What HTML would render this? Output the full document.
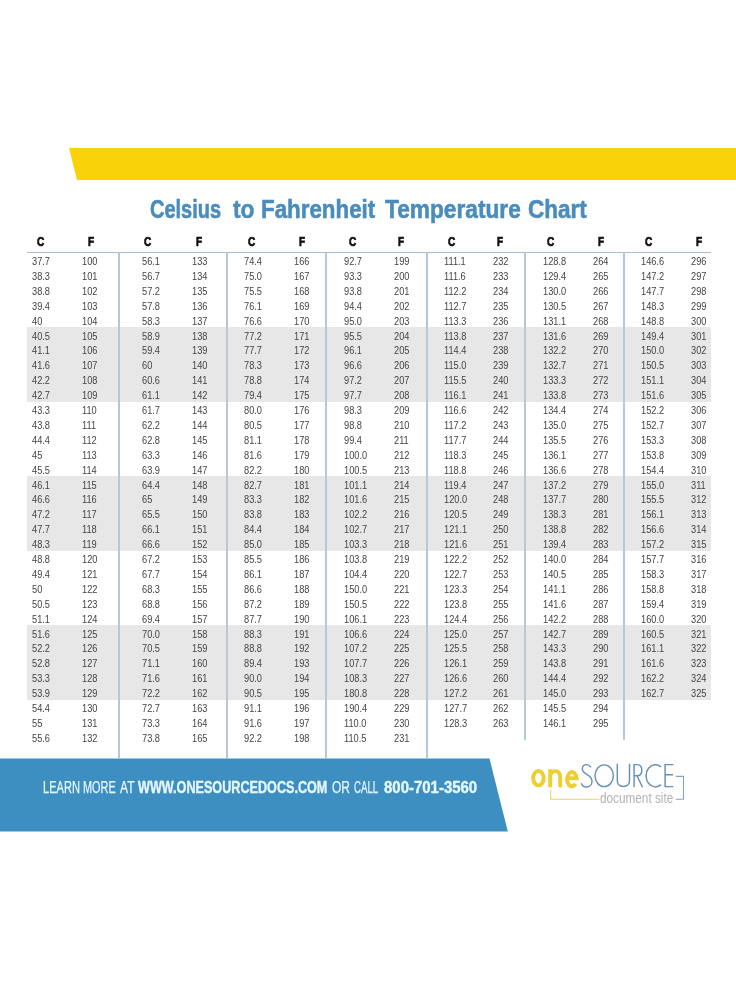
<!DOCTYPE html>
<html><head><meta charset="utf-8"><title>Celsius to Fahrenheit Temperature Chart</title>
<style>
html,body{margin:0;padding:0;background:#fff;}
body{width:736px;height:981px;position:relative;overflow:hidden;font-family:"Liberation Sans",sans-serif;}
.a{position:absolute;white-space:nowrap;}
.d{position:absolute;white-space:nowrap;font-size:10.5px;line-height:10px;color:#444444;transform:scaleX(0.88);transform-origin:0 0;filter:grayscale(1);}
.h{position:absolute;white-space:nowrap;font-size:12.5px;line-height:12px;font-weight:bold;color:#111;-webkit-text-stroke:0.7px #111;transform:scaleX(0.8);transform-origin:0 0;}
.band{position:absolute;left:26.5px;width:684.5px;height:75px;background:#e7e7e7;}
.vl{position:absolute;width:1.6px;background:#b4c8d6;}
</style></head><body>

<svg class="a" style="left:0;top:0" width="736" height="981" viewBox="0 0 736 981">
<polygon points="69,148 736,148 736,180 77,180" fill="#fad20a"/>
<polygon points="0,758.5 489.5,758.5 507.8,831.5 0,831.5" fill="#3d8ec1"/>
</svg>
<div class="band" style="top:326.70px"></div>
<div class="band" style="top:475.70px"></div>
<div class="band" style="top:624.70px"></div>
<div class="a" style="left:26.5px;top:252px;width:684.5px;height:1.4px;background:#a9bec2"></div>
<div class="vl" style="left:118px;top:252px;height:506px"></div>
<div class="vl" style="left:226px;top:252px;height:506px"></div>
<div class="vl" style="left:325px;top:252px;height:506px"></div>
<div class="vl" style="left:426px;top:252px;height:506px"></div>
<div class="vl" style="left:524px;top:252px;height:488px"></div>
<div class="vl" style="left:623px;top:252px;height:488px"></div>
<div class="a" style="left:150.23px;top:196px;font-size:26px;line-height:1;font-weight:bold;color:#4a8cbc;-webkit-text-stroke:0.6px #4a8cbc;transform:scaleX(0.7692);transform-origin:0 0">Celsius</div>
<div class="a" style="left:232.7px;top:196px;font-size:26px;line-height:1;font-weight:bold;color:#4a8cbc;-webkit-text-stroke:0.6px #4a8cbc;transform:scaleX(0.875);transform-origin:0 0">to</div>
<div class="a" style="left:260.88px;top:196px;font-size:26px;line-height:1;font-weight:bold;color:#4a8cbc;-webkit-text-stroke:0.6px #4a8cbc;transform:scaleX(0.8595);transform-origin:0 0">Fahrenheit</div>
<div class="a" style="left:384.7px;top:196px;font-size:26px;line-height:1;font-weight:bold;color:#4a8cbc;-webkit-text-stroke:0.6px #4a8cbc;transform:scaleX(0.8729);transform-origin:0 0">Temperature</div>
<div class="a" style="left:528.03px;top:196px;font-size:26px;line-height:1;font-weight:bold;color:#4a8cbc;-webkit-text-stroke:0.6px #4a8cbc;transform:scaleX(0.8672);transform-origin:0 0">Chart</div>
<div class="h" style="left:37px;top:236px">C</div>
<div class="h" style="left:87.5px;top:236px">F</div>
<div class="h" style="left:144px;top:236px">C</div>
<div class="h" style="left:195.5px;top:236px">F</div>
<div class="h" style="left:248px;top:236px">C</div>
<div class="h" style="left:299px;top:236px">F</div>
<div class="h" style="left:348.5px;top:236px">C</div>
<div class="h" style="left:398px;top:236px">F</div>
<div class="h" style="left:447.5px;top:236px">C</div>
<div class="h" style="left:497px;top:236px">F</div>
<div class="h" style="left:546.5px;top:236px">C</div>
<div class="h" style="left:598px;top:236px">F</div>
<div class="h" style="left:645px;top:236px">C</div>
<div class="h" style="left:696px;top:236px">F</div>
<div class="d" style="left:32px;top:256.00px">37.7</div>
<div class="d" style="left:81.8px;top:256.00px">100</div>
<div class="d" style="left:32px;top:270.90px">38.3</div>
<div class="d" style="left:81.8px;top:270.90px">101</div>
<div class="d" style="left:32px;top:285.80px">38.8</div>
<div class="d" style="left:81.8px;top:285.80px">102</div>
<div class="d" style="left:32px;top:300.70px">39.4</div>
<div class="d" style="left:81.8px;top:300.70px">103</div>
<div class="d" style="left:32px;top:315.60px">40</div>
<div class="d" style="left:81.8px;top:315.60px">104</div>
<div class="d" style="left:32px;top:330.50px">40.5</div>
<div class="d" style="left:81.8px;top:330.50px">105</div>
<div class="d" style="left:32px;top:345.40px">41.1</div>
<div class="d" style="left:81.8px;top:345.40px">106</div>
<div class="d" style="left:32px;top:360.30px">41.6</div>
<div class="d" style="left:81.8px;top:360.30px">107</div>
<div class="d" style="left:32px;top:375.20px">42.2</div>
<div class="d" style="left:81.8px;top:375.20px">108</div>
<div class="d" style="left:32px;top:390.10px">42.7</div>
<div class="d" style="left:81.8px;top:390.10px">109</div>
<div class="d" style="left:32px;top:405.00px">43.3</div>
<div class="d" style="left:81.8px;top:405.00px">110</div>
<div class="d" style="left:32px;top:419.90px">43.8</div>
<div class="d" style="left:81.8px;top:419.90px">111</div>
<div class="d" style="left:32px;top:434.80px">44.4</div>
<div class="d" style="left:81.8px;top:434.80px">112</div>
<div class="d" style="left:32px;top:449.70px">45</div>
<div class="d" style="left:81.8px;top:449.70px">113</div>
<div class="d" style="left:32px;top:464.60px">45.5</div>
<div class="d" style="left:81.8px;top:464.60px">114</div>
<div class="d" style="left:32px;top:479.50px">46.1</div>
<div class="d" style="left:81.8px;top:479.50px">115</div>
<div class="d" style="left:32px;top:494.40px">46.6</div>
<div class="d" style="left:81.8px;top:494.40px">116</div>
<div class="d" style="left:32px;top:509.30px">47.2</div>
<div class="d" style="left:81.8px;top:509.30px">117</div>
<div class="d" style="left:32px;top:524.20px">47.7</div>
<div class="d" style="left:81.8px;top:524.20px">118</div>
<div class="d" style="left:32px;top:539.10px">48.3</div>
<div class="d" style="left:81.8px;top:539.10px">119</div>
<div class="d" style="left:32px;top:554.00px">48.8</div>
<div class="d" style="left:81.8px;top:554.00px">120</div>
<div class="d" style="left:32px;top:568.90px">49.4</div>
<div class="d" style="left:81.8px;top:568.90px">121</div>
<div class="d" style="left:32px;top:583.80px">50</div>
<div class="d" style="left:81.8px;top:583.80px">122</div>
<div class="d" style="left:32px;top:598.70px">50.5</div>
<div class="d" style="left:81.8px;top:598.70px">123</div>
<div class="d" style="left:32px;top:613.60px">51.1</div>
<div class="d" style="left:81.8px;top:613.60px">124</div>
<div class="d" style="left:32px;top:628.50px">51.6</div>
<div class="d" style="left:81.8px;top:628.50px">125</div>
<div class="d" style="left:32px;top:643.40px">52.2</div>
<div class="d" style="left:81.8px;top:643.40px">126</div>
<div class="d" style="left:32px;top:658.30px">52.8</div>
<div class="d" style="left:81.8px;top:658.30px">127</div>
<div class="d" style="left:32px;top:673.20px">53.3</div>
<div class="d" style="left:81.8px;top:673.20px">128</div>
<div class="d" style="left:32px;top:688.10px">53.9</div>
<div class="d" style="left:81.8px;top:688.10px">129</div>
<div class="d" style="left:32px;top:703.00px">54.4</div>
<div class="d" style="left:81.8px;top:703.00px">130</div>
<div class="d" style="left:32px;top:717.90px">55</div>
<div class="d" style="left:81.8px;top:717.90px">131</div>
<div class="d" style="left:32px;top:732.80px">55.6</div>
<div class="d" style="left:81.8px;top:732.80px">132</div>
<div class="d" style="left:142px;top:256.00px">56.1</div>
<div class="d" style="left:191.6px;top:256.00px">133</div>
<div class="d" style="left:142px;top:270.90px">56.7</div>
<div class="d" style="left:191.6px;top:270.90px">134</div>
<div class="d" style="left:142px;top:285.80px">57.2</div>
<div class="d" style="left:191.6px;top:285.80px">135</div>
<div class="d" style="left:142px;top:300.70px">57.8</div>
<div class="d" style="left:191.6px;top:300.70px">136</div>
<div class="d" style="left:142px;top:315.60px">58.3</div>
<div class="d" style="left:191.6px;top:315.60px">137</div>
<div class="d" style="left:142px;top:330.50px">58.9</div>
<div class="d" style="left:191.6px;top:330.50px">138</div>
<div class="d" style="left:142px;top:345.40px">59.4</div>
<div class="d" style="left:191.6px;top:345.40px">139</div>
<div class="d" style="left:142px;top:360.30px">60</div>
<div class="d" style="left:191.6px;top:360.30px">140</div>
<div class="d" style="left:142px;top:375.20px">60.6</div>
<div class="d" style="left:191.6px;top:375.20px">141</div>
<div class="d" style="left:142px;top:390.10px">61.1</div>
<div class="d" style="left:191.6px;top:390.10px">142</div>
<div class="d" style="left:142px;top:405.00px">61.7</div>
<div class="d" style="left:191.6px;top:405.00px">143</div>
<div class="d" style="left:142px;top:419.90px">62.2</div>
<div class="d" style="left:191.6px;top:419.90px">144</div>
<div class="d" style="left:142px;top:434.80px">62.8</div>
<div class="d" style="left:191.6px;top:434.80px">145</div>
<div class="d" style="left:142px;top:449.70px">63.3</div>
<div class="d" style="left:191.6px;top:449.70px">146</div>
<div class="d" style="left:142px;top:464.60px">63.9</div>
<div class="d" style="left:191.6px;top:464.60px">147</div>
<div class="d" style="left:142px;top:479.50px">64.4</div>
<div class="d" style="left:191.6px;top:479.50px">148</div>
<div class="d" style="left:142px;top:494.40px">65</div>
<div class="d" style="left:191.6px;top:494.40px">149</div>
<div class="d" style="left:142px;top:509.30px">65.5</div>
<div class="d" style="left:191.6px;top:509.30px">150</div>
<div class="d" style="left:142px;top:524.20px">66.1</div>
<div class="d" style="left:191.6px;top:524.20px">151</div>
<div class="d" style="left:142px;top:539.10px">66.6</div>
<div class="d" style="left:191.6px;top:539.10px">152</div>
<div class="d" style="left:142px;top:554.00px">67.2</div>
<div class="d" style="left:191.6px;top:554.00px">153</div>
<div class="d" style="left:142px;top:568.90px">67.7</div>
<div class="d" style="left:191.6px;top:568.90px">154</div>
<div class="d" style="left:142px;top:583.80px">68.3</div>
<div class="d" style="left:191.6px;top:583.80px">155</div>
<div class="d" style="left:142px;top:598.70px">68.8</div>
<div class="d" style="left:191.6px;top:598.70px">156</div>
<div class="d" style="left:142px;top:613.60px">69.4</div>
<div class="d" style="left:191.6px;top:613.60px">157</div>
<div class="d" style="left:142px;top:628.50px">70.0</div>
<div class="d" style="left:191.6px;top:628.50px">158</div>
<div class="d" style="left:142px;top:643.40px">70.5</div>
<div class="d" style="left:191.6px;top:643.40px">159</div>
<div class="d" style="left:142px;top:658.30px">71.1</div>
<div class="d" style="left:191.6px;top:658.30px">160</div>
<div class="d" style="left:142px;top:673.20px">71.6</div>
<div class="d" style="left:191.6px;top:673.20px">161</div>
<div class="d" style="left:142px;top:688.10px">72.2</div>
<div class="d" style="left:191.6px;top:688.10px">162</div>
<div class="d" style="left:142px;top:703.00px">72.7</div>
<div class="d" style="left:191.6px;top:703.00px">163</div>
<div class="d" style="left:142px;top:717.90px">73.3</div>
<div class="d" style="left:191.6px;top:717.90px">164</div>
<div class="d" style="left:142px;top:732.80px">73.8</div>
<div class="d" style="left:191.6px;top:732.80px">165</div>
<div class="d" style="left:243.8px;top:256.00px">74.4</div>
<div class="d" style="left:294.2px;top:256.00px">166</div>
<div class="d" style="left:243.8px;top:270.90px">75.0</div>
<div class="d" style="left:294.2px;top:270.90px">167</div>
<div class="d" style="left:243.8px;top:285.80px">75.5</div>
<div class="d" style="left:294.2px;top:285.80px">168</div>
<div class="d" style="left:243.8px;top:300.70px">76.1</div>
<div class="d" style="left:294.2px;top:300.70px">169</div>
<div class="d" style="left:243.8px;top:315.60px">76.6</div>
<div class="d" style="left:294.2px;top:315.60px">170</div>
<div class="d" style="left:243.8px;top:330.50px">77.2</div>
<div class="d" style="left:294.2px;top:330.50px">171</div>
<div class="d" style="left:243.8px;top:345.40px">77.7</div>
<div class="d" style="left:294.2px;top:345.40px">172</div>
<div class="d" style="left:243.8px;top:360.30px">78.3</div>
<div class="d" style="left:294.2px;top:360.30px">173</div>
<div class="d" style="left:243.8px;top:375.20px">78.8</div>
<div class="d" style="left:294.2px;top:375.20px">174</div>
<div class="d" style="left:243.8px;top:390.10px">79.4</div>
<div class="d" style="left:294.2px;top:390.10px">175</div>
<div class="d" style="left:243.8px;top:405.00px">80.0</div>
<div class="d" style="left:294.2px;top:405.00px">176</div>
<div class="d" style="left:243.8px;top:419.90px">80.5</div>
<div class="d" style="left:294.2px;top:419.90px">177</div>
<div class="d" style="left:243.8px;top:434.80px">81.1</div>
<div class="d" style="left:294.2px;top:434.80px">178</div>
<div class="d" style="left:243.8px;top:449.70px">81.6</div>
<div class="d" style="left:294.2px;top:449.70px">179</div>
<div class="d" style="left:243.8px;top:464.60px">82.2</div>
<div class="d" style="left:294.2px;top:464.60px">180</div>
<div class="d" style="left:243.8px;top:479.50px">82.7</div>
<div class="d" style="left:294.2px;top:479.50px">181</div>
<div class="d" style="left:243.8px;top:494.40px">83.3</div>
<div class="d" style="left:294.2px;top:494.40px">182</div>
<div class="d" style="left:243.8px;top:509.30px">83.8</div>
<div class="d" style="left:294.2px;top:509.30px">183</div>
<div class="d" style="left:243.8px;top:524.20px">84.4</div>
<div class="d" style="left:294.2px;top:524.20px">184</div>
<div class="d" style="left:243.8px;top:539.10px">85.0</div>
<div class="d" style="left:294.2px;top:539.10px">185</div>
<div class="d" style="left:243.8px;top:554.00px">85.5</div>
<div class="d" style="left:294.2px;top:554.00px">186</div>
<div class="d" style="left:243.8px;top:568.90px">86.1</div>
<div class="d" style="left:294.2px;top:568.90px">187</div>
<div class="d" style="left:243.8px;top:583.80px">86.6</div>
<div class="d" style="left:294.2px;top:583.80px">188</div>
<div class="d" style="left:243.8px;top:598.70px">87.2</div>
<div class="d" style="left:294.2px;top:598.70px">189</div>
<div class="d" style="left:243.8px;top:613.60px">87.7</div>
<div class="d" style="left:294.2px;top:613.60px">190</div>
<div class="d" style="left:243.8px;top:628.50px">88.3</div>
<div class="d" style="left:294.2px;top:628.50px">191</div>
<div class="d" style="left:243.8px;top:643.40px">88.8</div>
<div class="d" style="left:294.2px;top:643.40px">192</div>
<div class="d" style="left:243.8px;top:658.30px">89.4</div>
<div class="d" style="left:294.2px;top:658.30px">193</div>
<div class="d" style="left:243.8px;top:673.20px">90.0</div>
<div class="d" style="left:294.2px;top:673.20px">194</div>
<div class="d" style="left:243.8px;top:688.10px">90.5</div>
<div class="d" style="left:294.2px;top:688.10px">195</div>
<div class="d" style="left:243.8px;top:703.00px">91.1</div>
<div class="d" style="left:294.2px;top:703.00px">196</div>
<div class="d" style="left:243.8px;top:717.90px">91.6</div>
<div class="d" style="left:294.2px;top:717.90px">197</div>
<div class="d" style="left:243.8px;top:732.80px">92.2</div>
<div class="d" style="left:294.2px;top:732.80px">198</div>
<div class="d" style="left:343.5px;top:256.00px">92.7</div>
<div class="d" style="left:393.6px;top:256.00px">199</div>
<div class="d" style="left:343.5px;top:270.90px">93.3</div>
<div class="d" style="left:393.6px;top:270.90px">200</div>
<div class="d" style="left:343.5px;top:285.80px">93.8</div>
<div class="d" style="left:393.6px;top:285.80px">201</div>
<div class="d" style="left:343.5px;top:300.70px">94.4</div>
<div class="d" style="left:393.6px;top:300.70px">202</div>
<div class="d" style="left:343.5px;top:315.60px">95.0</div>
<div class="d" style="left:393.6px;top:315.60px">203</div>
<div class="d" style="left:343.5px;top:330.50px">95.5</div>
<div class="d" style="left:393.6px;top:330.50px">204</div>
<div class="d" style="left:343.5px;top:345.40px">96.1</div>
<div class="d" style="left:393.6px;top:345.40px">205</div>
<div class="d" style="left:343.5px;top:360.30px">96.6</div>
<div class="d" style="left:393.6px;top:360.30px">206</div>
<div class="d" style="left:343.5px;top:375.20px">97.2</div>
<div class="d" style="left:393.6px;top:375.20px">207</div>
<div class="d" style="left:343.5px;top:390.10px">97.7</div>
<div class="d" style="left:393.6px;top:390.10px">208</div>
<div class="d" style="left:343.5px;top:405.00px">98.3</div>
<div class="d" style="left:393.6px;top:405.00px">209</div>
<div class="d" style="left:343.5px;top:419.90px">98.8</div>
<div class="d" style="left:393.6px;top:419.90px">210</div>
<div class="d" style="left:343.5px;top:434.80px">99.4</div>
<div class="d" style="left:393.6px;top:434.80px">211</div>
<div class="d" style="left:343.5px;top:449.70px">100.0</div>
<div class="d" style="left:393.6px;top:449.70px">212</div>
<div class="d" style="left:343.5px;top:464.60px">100.5</div>
<div class="d" style="left:393.6px;top:464.60px">213</div>
<div class="d" style="left:343.5px;top:479.50px">101.1</div>
<div class="d" style="left:393.6px;top:479.50px">214</div>
<div class="d" style="left:343.5px;top:494.40px">101.6</div>
<div class="d" style="left:393.6px;top:494.40px">215</div>
<div class="d" style="left:343.5px;top:509.30px">102.2</div>
<div class="d" style="left:393.6px;top:509.30px">216</div>
<div class="d" style="left:343.5px;top:524.20px">102.7</div>
<div class="d" style="left:393.6px;top:524.20px">217</div>
<div class="d" style="left:343.5px;top:539.10px">103.3</div>
<div class="d" style="left:393.6px;top:539.10px">218</div>
<div class="d" style="left:343.5px;top:554.00px">103.8</div>
<div class="d" style="left:393.6px;top:554.00px">219</div>
<div class="d" style="left:343.5px;top:568.90px">104.4</div>
<div class="d" style="left:393.6px;top:568.90px">220</div>
<div class="d" style="left:343.5px;top:583.80px">150.0</div>
<div class="d" style="left:393.6px;top:583.80px">221</div>
<div class="d" style="left:343.5px;top:598.70px">150.5</div>
<div class="d" style="left:393.6px;top:598.70px">222</div>
<div class="d" style="left:343.5px;top:613.60px">106.1</div>
<div class="d" style="left:393.6px;top:613.60px">223</div>
<div class="d" style="left:343.5px;top:628.50px">106.6</div>
<div class="d" style="left:393.6px;top:628.50px">224</div>
<div class="d" style="left:343.5px;top:643.40px">107.2</div>
<div class="d" style="left:393.6px;top:643.40px">225</div>
<div class="d" style="left:343.5px;top:658.30px">107.7</div>
<div class="d" style="left:393.6px;top:658.30px">226</div>
<div class="d" style="left:343.5px;top:673.20px">108.3</div>
<div class="d" style="left:393.6px;top:673.20px">227</div>
<div class="d" style="left:343.5px;top:688.10px">180.8</div>
<div class="d" style="left:393.6px;top:688.10px">228</div>
<div class="d" style="left:343.5px;top:703.00px">190.4</div>
<div class="d" style="left:393.6px;top:703.00px">229</div>
<div class="d" style="left:343.5px;top:717.90px">110.0</div>
<div class="d" style="left:393.6px;top:717.90px">230</div>
<div class="d" style="left:343.5px;top:732.80px">110.5</div>
<div class="d" style="left:393.6px;top:732.80px">231</div>
<div class="d" style="left:443.8px;top:256.00px">111.1</div>
<div class="d" style="left:493px;top:256.00px">232</div>
<div class="d" style="left:443.8px;top:270.90px">111.6</div>
<div class="d" style="left:493px;top:270.90px">233</div>
<div class="d" style="left:443.8px;top:285.80px">112.2</div>
<div class="d" style="left:493px;top:285.80px">234</div>
<div class="d" style="left:443.8px;top:300.70px">112.7</div>
<div class="d" style="left:493px;top:300.70px">235</div>
<div class="d" style="left:443.8px;top:315.60px">113.3</div>
<div class="d" style="left:493px;top:315.60px">236</div>
<div class="d" style="left:443.8px;top:330.50px">113.8</div>
<div class="d" style="left:493px;top:330.50px">237</div>
<div class="d" style="left:443.8px;top:345.40px">114.4</div>
<div class="d" style="left:493px;top:345.40px">238</div>
<div class="d" style="left:443.8px;top:360.30px">115.0</div>
<div class="d" style="left:493px;top:360.30px">239</div>
<div class="d" style="left:443.8px;top:375.20px">115.5</div>
<div class="d" style="left:493px;top:375.20px">240</div>
<div class="d" style="left:443.8px;top:390.10px">116.1</div>
<div class="d" style="left:493px;top:390.10px">241</div>
<div class="d" style="left:443.8px;top:405.00px">116.6</div>
<div class="d" style="left:493px;top:405.00px">242</div>
<div class="d" style="left:443.8px;top:419.90px">117.2</div>
<div class="d" style="left:493px;top:419.90px">243</div>
<div class="d" style="left:443.8px;top:434.80px">117.7</div>
<div class="d" style="left:493px;top:434.80px">244</div>
<div class="d" style="left:443.8px;top:449.70px">118.3</div>
<div class="d" style="left:493px;top:449.70px">245</div>
<div class="d" style="left:443.8px;top:464.60px">118.8</div>
<div class="d" style="left:493px;top:464.60px">246</div>
<div class="d" style="left:443.8px;top:479.50px">119.4</div>
<div class="d" style="left:493px;top:479.50px">247</div>
<div class="d" style="left:443.8px;top:494.40px">120.0</div>
<div class="d" style="left:493px;top:494.40px">248</div>
<div class="d" style="left:443.8px;top:509.30px">120.5</div>
<div class="d" style="left:493px;top:509.30px">249</div>
<div class="d" style="left:443.8px;top:524.20px">121.1</div>
<div class="d" style="left:493px;top:524.20px">250</div>
<div class="d" style="left:443.8px;top:539.10px">121.6</div>
<div class="d" style="left:493px;top:539.10px">251</div>
<div class="d" style="left:443.8px;top:554.00px">122.2</div>
<div class="d" style="left:493px;top:554.00px">252</div>
<div class="d" style="left:443.8px;top:568.90px">122.7</div>
<div class="d" style="left:493px;top:568.90px">253</div>
<div class="d" style="left:443.8px;top:583.80px">123.3</div>
<div class="d" style="left:493px;top:583.80px">254</div>
<div class="d" style="left:443.8px;top:598.70px">123.8</div>
<div class="d" style="left:493px;top:598.70px">255</div>
<div class="d" style="left:443.8px;top:613.60px">124.4</div>
<div class="d" style="left:493px;top:613.60px">256</div>
<div class="d" style="left:443.8px;top:628.50px">125.0</div>
<div class="d" style="left:493px;top:628.50px">257</div>
<div class="d" style="left:443.8px;top:643.40px">125.5</div>
<div class="d" style="left:493px;top:643.40px">258</div>
<div class="d" style="left:443.8px;top:658.30px">126.1</div>
<div class="d" style="left:493px;top:658.30px">259</div>
<div class="d" style="left:443.8px;top:673.20px">126.6</div>
<div class="d" style="left:493px;top:673.20px">260</div>
<div class="d" style="left:443.8px;top:688.10px">127.2</div>
<div class="d" style="left:493px;top:688.10px">261</div>
<div class="d" style="left:443.8px;top:703.00px">127.7</div>
<div class="d" style="left:493px;top:703.00px">262</div>
<div class="d" style="left:443.8px;top:717.90px">128.3</div>
<div class="d" style="left:493px;top:717.90px">263</div>
<div class="d" style="left:542.6px;top:256.00px">128.8</div>
<div class="d" style="left:592.5px;top:256.00px">264</div>
<div class="d" style="left:542.6px;top:270.90px">129.4</div>
<div class="d" style="left:592.5px;top:270.90px">265</div>
<div class="d" style="left:542.6px;top:285.80px">130.0</div>
<div class="d" style="left:592.5px;top:285.80px">266</div>
<div class="d" style="left:542.6px;top:300.70px">130.5</div>
<div class="d" style="left:592.5px;top:300.70px">267</div>
<div class="d" style="left:542.6px;top:315.60px">131.1</div>
<div class="d" style="left:592.5px;top:315.60px">268</div>
<div class="d" style="left:542.6px;top:330.50px">131.6</div>
<div class="d" style="left:592.5px;top:330.50px">269</div>
<div class="d" style="left:542.6px;top:345.40px">132.2</div>
<div class="d" style="left:592.5px;top:345.40px">270</div>
<div class="d" style="left:542.6px;top:360.30px">132.7</div>
<div class="d" style="left:592.5px;top:360.30px">271</div>
<div class="d" style="left:542.6px;top:375.20px">133.3</div>
<div class="d" style="left:592.5px;top:375.20px">272</div>
<div class="d" style="left:542.6px;top:390.10px">133.8</div>
<div class="d" style="left:592.5px;top:390.10px">273</div>
<div class="d" style="left:542.6px;top:405.00px">134.4</div>
<div class="d" style="left:592.5px;top:405.00px">274</div>
<div class="d" style="left:542.6px;top:419.90px">135.0</div>
<div class="d" style="left:592.5px;top:419.90px">275</div>
<div class="d" style="left:542.6px;top:434.80px">135.5</div>
<div class="d" style="left:592.5px;top:434.80px">276</div>
<div class="d" style="left:542.6px;top:449.70px">136.1</div>
<div class="d" style="left:592.5px;top:449.70px">277</div>
<div class="d" style="left:542.6px;top:464.60px">136.6</div>
<div class="d" style="left:592.5px;top:464.60px">278</div>
<div class="d" style="left:542.6px;top:479.50px">137.2</div>
<div class="d" style="left:592.5px;top:479.50px">279</div>
<div class="d" style="left:542.6px;top:494.40px">137.7</div>
<div class="d" style="left:592.5px;top:494.40px">280</div>
<div class="d" style="left:542.6px;top:509.30px">138.3</div>
<div class="d" style="left:592.5px;top:509.30px">281</div>
<div class="d" style="left:542.6px;top:524.20px">138.8</div>
<div class="d" style="left:592.5px;top:524.20px">282</div>
<div class="d" style="left:542.6px;top:539.10px">139.4</div>
<div class="d" style="left:592.5px;top:539.10px">283</div>
<div class="d" style="left:542.6px;top:554.00px">140.0</div>
<div class="d" style="left:592.5px;top:554.00px">284</div>
<div class="d" style="left:542.6px;top:568.90px">140.5</div>
<div class="d" style="left:592.5px;top:568.90px">285</div>
<div class="d" style="left:542.6px;top:583.80px">141.1</div>
<div class="d" style="left:592.5px;top:583.80px">286</div>
<div class="d" style="left:542.6px;top:598.70px">141.6</div>
<div class="d" style="left:592.5px;top:598.70px">287</div>
<div class="d" style="left:542.6px;top:613.60px">142.2</div>
<div class="d" style="left:592.5px;top:613.60px">288</div>
<div class="d" style="left:542.6px;top:628.50px">142.7</div>
<div class="d" style="left:592.5px;top:628.50px">289</div>
<div class="d" style="left:542.6px;top:643.40px">143.3</div>
<div class="d" style="left:592.5px;top:643.40px">290</div>
<div class="d" style="left:542.6px;top:658.30px">143.8</div>
<div class="d" style="left:592.5px;top:658.30px">291</div>
<div class="d" style="left:542.6px;top:673.20px">144.4</div>
<div class="d" style="left:592.5px;top:673.20px">292</div>
<div class="d" style="left:542.6px;top:688.10px">145.0</div>
<div class="d" style="left:592.5px;top:688.10px">293</div>
<div class="d" style="left:542.6px;top:703.00px">145.5</div>
<div class="d" style="left:592.5px;top:703.00px">294</div>
<div class="d" style="left:542.6px;top:717.90px">146.1</div>
<div class="d" style="left:592.5px;top:717.90px">295</div>
<div class="d" style="left:640.6px;top:256.00px">146.6</div>
<div class="d" style="left:691px;top:256.00px">296</div>
<div class="d" style="left:640.6px;top:270.90px">147.2</div>
<div class="d" style="left:691px;top:270.90px">297</div>
<div class="d" style="left:640.6px;top:285.80px">147.7</div>
<div class="d" style="left:691px;top:285.80px">298</div>
<div class="d" style="left:640.6px;top:300.70px">148.3</div>
<div class="d" style="left:691px;top:300.70px">299</div>
<div class="d" style="left:640.6px;top:315.60px">148.8</div>
<div class="d" style="left:691px;top:315.60px">300</div>
<div class="d" style="left:640.6px;top:330.50px">149.4</div>
<div class="d" style="left:691px;top:330.50px">301</div>
<div class="d" style="left:640.6px;top:345.40px">150.0</div>
<div class="d" style="left:691px;top:345.40px">302</div>
<div class="d" style="left:640.6px;top:360.30px">150.5</div>
<div class="d" style="left:691px;top:360.30px">303</div>
<div class="d" style="left:640.6px;top:375.20px">151.1</div>
<div class="d" style="left:691px;top:375.20px">304</div>
<div class="d" style="left:640.6px;top:390.10px">151.6</div>
<div class="d" style="left:691px;top:390.10px">305</div>
<div class="d" style="left:640.6px;top:405.00px">152.2</div>
<div class="d" style="left:691px;top:405.00px">306</div>
<div class="d" style="left:640.6px;top:419.90px">152.7</div>
<div class="d" style="left:691px;top:419.90px">307</div>
<div class="d" style="left:640.6px;top:434.80px">153.3</div>
<div class="d" style="left:691px;top:434.80px">308</div>
<div class="d" style="left:640.6px;top:449.70px">153.8</div>
<div class="d" style="left:691px;top:449.70px">309</div>
<div class="d" style="left:640.6px;top:464.60px">154.4</div>
<div class="d" style="left:691px;top:464.60px">310</div>
<div class="d" style="left:640.6px;top:479.50px">155.0</div>
<div class="d" style="left:691px;top:479.50px">311</div>
<div class="d" style="left:640.6px;top:494.40px">155.5</div>
<div class="d" style="left:691px;top:494.40px">312</div>
<div class="d" style="left:640.6px;top:509.30px">156.1</div>
<div class="d" style="left:691px;top:509.30px">313</div>
<div class="d" style="left:640.6px;top:524.20px">156.6</div>
<div class="d" style="left:691px;top:524.20px">314</div>
<div class="d" style="left:640.6px;top:539.10px">157.2</div>
<div class="d" style="left:691px;top:539.10px">315</div>
<div class="d" style="left:640.6px;top:554.00px">157.7</div>
<div class="d" style="left:691px;top:554.00px">316</div>
<div class="d" style="left:640.6px;top:568.90px">158.3</div>
<div class="d" style="left:691px;top:568.90px">317</div>
<div class="d" style="left:640.6px;top:583.80px">158.8</div>
<div class="d" style="left:691px;top:583.80px">318</div>
<div class="d" style="left:640.6px;top:598.70px">159.4</div>
<div class="d" style="left:691px;top:598.70px">319</div>
<div class="d" style="left:640.6px;top:613.60px">160.0</div>
<div class="d" style="left:691px;top:613.60px">320</div>
<div class="d" style="left:640.6px;top:628.50px">160.5</div>
<div class="d" style="left:691px;top:628.50px">321</div>
<div class="d" style="left:640.6px;top:643.40px">161.1</div>
<div class="d" style="left:691px;top:643.40px">322</div>
<div class="d" style="left:640.6px;top:658.30px">161.6</div>
<div class="d" style="left:691px;top:658.30px">323</div>
<div class="d" style="left:640.6px;top:673.20px">162.2</div>
<div class="d" style="left:691px;top:673.20px">324</div>
<div class="d" style="left:640.6px;top:688.10px">162.7</div>
<div class="d" style="left:691px;top:688.10px">325</div>
<div class="a" style="left:42.93px;top:779px;font-size:16.5px;line-height:1;font-weight:normal;color:#e6f7fd;-webkit-text-stroke:0.25px #e6f7fd;transform:scaleX(0.6717);transform-origin:0 0">LEARN</div>
<div class="a" style="left:82.54px;top:779px;font-size:16.5px;line-height:1;font-weight:normal;color:#e6f7fd;-webkit-text-stroke:0.25px #e6f7fd;transform:scaleX(0.6625);transform-origin:0 0">MORE</div>
<div class="a" style="left:120.0px;top:779px;font-size:16.5px;line-height:1;font-weight:normal;color:#e6f7fd;-webkit-text-stroke:0.25px #e6f7fd;transform:scaleX(0.73);transform-origin:0 0">AT</div>
<div class="a" style="left:138.0px;top:779px;font-size:16.5px;line-height:1;font-weight:bold;color:#e6f7fd;-webkit-text-stroke:0.4px #e6f7fd;transform:scaleX(0.7652);transform-origin:0 0">WWW.ONESOURCEDOCS.COM</div>
<div class="a" style="left:331.87px;top:779px;font-size:16.5px;line-height:1;font-weight:normal;color:#e6f7fd;-webkit-text-stroke:0.25px #e6f7fd;transform:scaleX(0.7261);transform-origin:0 0">OR</div>
<div class="a" style="left:354.21px;top:779px;font-size:16.5px;line-height:1;font-weight:normal;color:#e6f7fd;-webkit-text-stroke:0.25px #e6f7fd;transform:scaleX(0.5875);transform-origin:0 0">CALL</div>
<div class="a" style="left:383.5px;top:779px;font-size:16.5px;line-height:1;font-weight:bold;color:#e6f7fd;-webkit-text-stroke:0.4px #e6f7fd;transform:scaleX(0.9069);transform-origin:0 0">800-701-3560</div>
<div class="a" style="left:600.26px;top:790.5px;font-size:14px;line-height:1;color:#b3b3b3;transform:scaleX(0.8407);transform-origin:0 0">document site</div>
<svg class="a" style="left:0;top:0" width="736" height="981" viewBox="0 0 736 981">
<g fill="none" stroke="#eccf30" stroke-width="3.9">
<ellipse cx="538.45" cy="778.15" rx="5.2" ry="7.2"/>
<path d="M550.2,787.3 V769.2 M550.2,777.5 C550.2,773.1 552.8,771.1 555.3,771.1 C558,771.1 560.2,773 560.2,777 V787.3"/>
<path d="M567,778.2 H576.6 A4.75,7.1 0 1 0 575.5,783.8"/>
</g>
<g fill="none" stroke="#6890b3" stroke-width="1.45" stroke-linecap="butt">
<path d="M591,767.3 C589.5,765.2 588,764.6 586.5,764.6 C583.8,764.6 582.3,766.6 582.3,769 C582.3,772 585,773.4 587.5,774.8 C590.5,776.5 592,778.3 592,781.5 C592,785 589.5,787 586.3,787 C583.8,787 582,785.5 581.2,783.3"/>
<ellipse cx="604.2" cy="775.75" rx="9.15" ry="10.9"/>
<path d="M617.3,763.8 V780.5 C617.3,784.5 619.8,786.4 623.4,786.4 C627,786.4 629.5,784.5 629.5,780.5 V763.8"/>
<path d="M634.1,787.3 V764.6 H637 C640,764.6 641.8,766.6 641.8,770.2 C641.8,773.8 639.8,775.8 636.8,775.8 H634.1 M637,775.8 L642.5,787.3"/>
<path d="M661,767 A9.3,11.1 0 1 0 661,784.6"/>
<path d="M673.3,764.6 H665.1 V786.6 H673.3 M665.1,774.7 H673"/>
</g>
<path d="M675.8,776.4 H683.5 V799.3 H675.8" fill="none" stroke="#86a5ba" stroke-width="1.1"/>
<path d="M550.7,790 V799.3 H599.5" fill="none" stroke="#e9d56a" stroke-width="1.1"/>
</svg>

</body></html>
